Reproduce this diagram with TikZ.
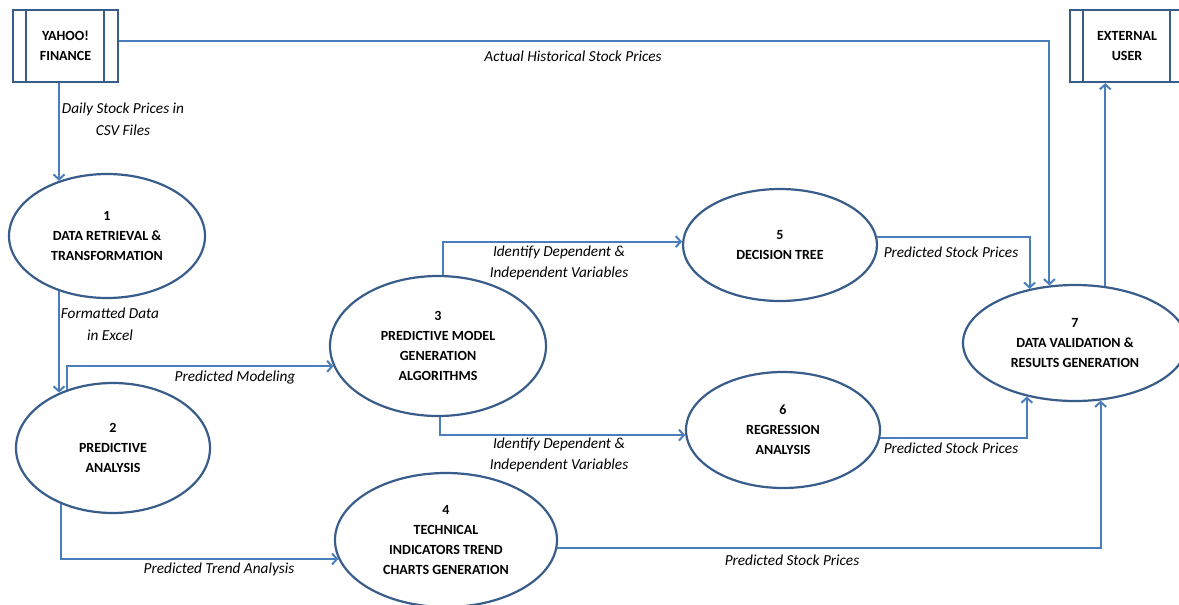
\documentclass[tikz,border=0pt]{standalone}
\usepackage{fontspec}
\setmainfont{Carlito}
\usetikzlibrary{arrows.meta,shapes.geometric}
\definecolor{flow}{HTML}{4A7EBB}
\definecolor{rim}{HTML}{385D8A}
\begin{document}
\begin{tikzpicture}[x=1pt,y=-1pt,
  proc/.style={ellipse, draw=rim, line width=2.2pt, fill=white, inner sep=0pt, align=center,
    font=\bfseries\fontsize{14}{20}\selectfont},
  extbox/.style={rectangle, draw=rim, line width=2.2pt, minimum height=72pt, inner sep=0pt, align=center,
    font=\bfseries\fontsize{14}{20}\selectfont},
  bar/.style={draw=rim, line width=2.2pt},
  flowline/.style={draw=flow, line width=2pt, -{Straight Barb[length=5pt,width=11pt,line width=2pt]}},
  lbl/.style={font=\itshape\fontsize{15.3}{21.5}\selectfont, align=center, inner sep=0pt, text=black}]
\useasboundingbox (0,0) rectangle (1179,605);

% external entities
\node[extbox, minimum width=105pt] (yahoo) at (65.5,46) {YAHOO!\\FINANCE};
\draw[bar] ([xshift=14pt]yahoo.north west) -- ([xshift=14pt]yahoo.south west);
\draw[bar] ([xshift=-15pt]yahoo.north east) -- ([xshift=-15pt]yahoo.south east);
\node[extbox, minimum width=113pt, text width=113pt, text depth=0pt] (ext) at (1126.5,46) {};
\node[font=\bfseries\fontsize{14}{20}\selectfont, align=center, inner sep=0pt] (extt) at (1127,46) {EXTERNAL\\USER};
\draw[bar] ([xshift=14pt]ext.north west) -- ([xshift=14pt]ext.south west);
\draw[bar] ([xshift=-14pt]ext.north east) -- ([xshift=-14pt]ext.south east);

% processes
\node[proc, minimum width=196pt, minimum height=124pt] (e1) at (107,236) {1\\DATA RETRIEVAL \&\\TRANSFORMATION};
\node[proc, minimum width=194pt, minimum height=130pt] (e2) at (113,448) {2\\PREDICTIVE\\ANALYSIS};
\node[proc, minimum width=216pt, minimum height=140pt] (e3) at (438,346) {3\\PREDICTIVE MODEL\\GENERATION\\ALGORITHMS};
\node[proc, minimum width=222pt, minimum height=134pt] (e4) at (446,540) {4\\TECHNICAL\\INDICATORS TREND\\CHARTS GENERATION};
\node[proc, minimum width=194pt, minimum height=112pt] (e5) at (780,245) {5\\DECISION TREE};
\node[proc, minimum width=194pt, minimum height=116pt] (e6) at (783,430) {6\\REGRESSION\\ANALYSIS};
\node[proc, minimum width=224pt, minimum height=116pt] (e7) at (1075,343) {7\\DATA VALIDATION \&\\RESULTS GENERATION};

% flows
\draw[flowline] ([yshift=5pt]yahoo.east) -| (e7.114);
\draw[flowline] (yahoo.south -| e1.131) -- (e1.131);
\draw[flowline] (e1.229) -- (e1.229 |- e2.134);
\draw[flowline] (e2.128) |- (e3.191);
\draw[flowline] (e2.227) |- (e4.190);
\draw[flowline] (e3.86) |- (e5.178);
\draw[flowline] (e3.272) |- (e6.183);
\draw[flowline] (e5.5) -| (e7.130);
\draw[flowline] (e6.355) -| (e7.228);
\draw[flowline] (e4.356) -| (e7.294);
\draw[flowline] (e7.62) -- (e7.62 |- ext.south);

% labels
\node[lbl] (l1) at (573,56) {Actual Historical Stock Prices};
\node[lbl] (l2) at (123,119) {Daily Stock Prices in\\CSV Files};
\node[lbl] (l3) at (110,324) {Formatted Data\\in Excel};
\node[lbl] (l4) at (235,377) {Predicted Modeling};
\node[lbl] (l5) at (219,569) {Predicted Trend Analysis};
\node[lbl] (l6) at (559,263) {Identify Dependent \&\\Independent Variables};
\node[lbl] (l7) at (559,455) {Identify Dependent \&\\Independent Variables};
\node[lbl] (l8) at (951,252) {Predicted Stock Prices};
\node[lbl] (l9) at (951,448) {Predicted Stock Prices};
\node[lbl] (l10) at (792,560) {Predicted Stock Prices};
\end{tikzpicture}
\end{document}
